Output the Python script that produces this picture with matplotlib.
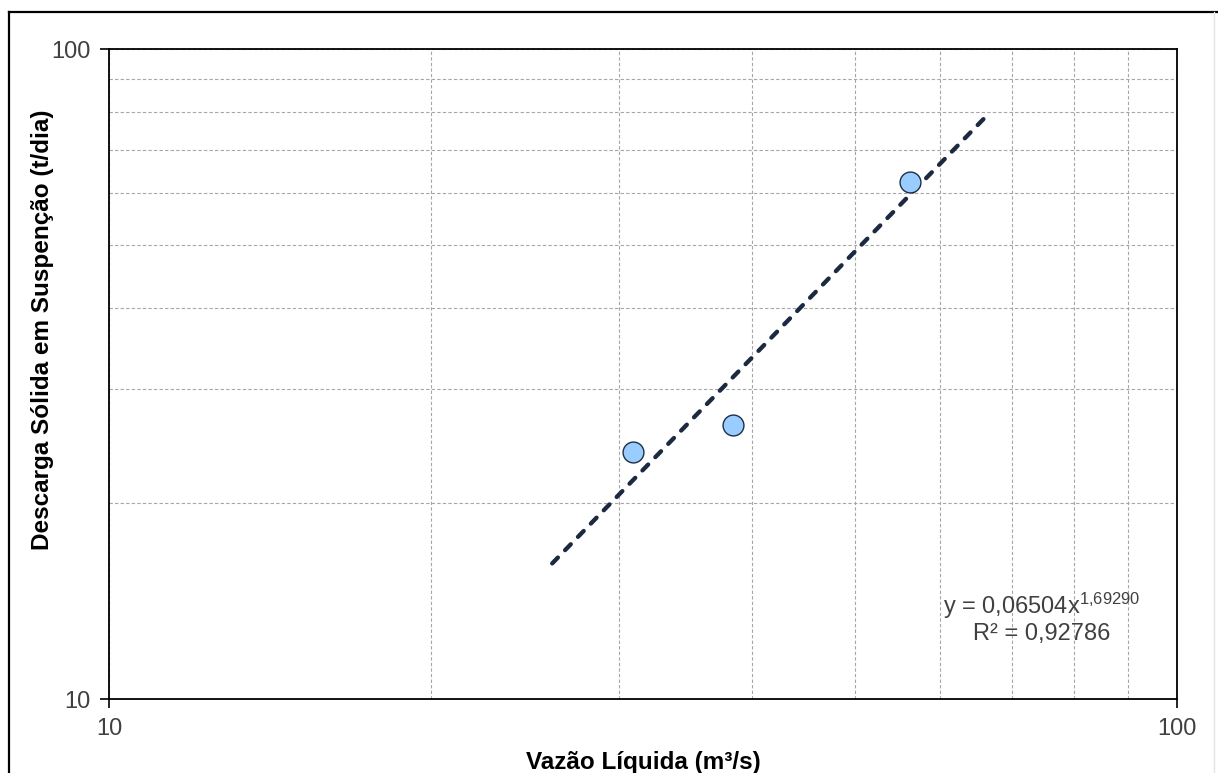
import numpy as np
import matplotlib
matplotlib.use("Agg")
import matplotlib.pyplot as plt
from matplotlib.lines import Line2D
from matplotlib.ticker import LogLocator, NullFormatter, FixedLocator, FixedFormatter

plt.rcParams['font.family'] = ['Liberation Sans', 'DejaVu Sans']
plt.rcParams['mathtext.fontset'] = 'custom'
plt.rcParams['mathtext.rm'] = 'Liberation Sans'
plt.rcParams['mathtext.it'] = 'Liberation Sans:italic'
plt.rcParams['mathtext.bf'] = 'Liberation Sans:bold'

# Measured discharge (m³/s) and suspended sediment load (t/day)
vazao = [30.95, 38.4, 56.2]
descarga = [24.0, 26.4, 62.4]

# Power-law trendline y = a * x^b and its extent along x
trend_a = 0.06504
trend_b = 1.69290
trend_r2 = 0.92786
trend_x_range = [26.0, 66.1]

x_label = "Vazão Líquida (m³/s)"
y_label = "Descarga Sólida em Suspenção (t/dia)"
x_ticks = [10, 100]
y_ticks = [10, 100]

W, H = 1218, 773
fig = plt.figure(figsize=(W / 100, H / 100), dpi=100)
fig.patch.set_facecolor('white')

# Outer chart frame (left and top edges dark, right edge faint)
fig.lines.append(Line2D([9 / W, 9 / W], [0, 1 - 12 / H], transform=fig.transFigure,
                        color='black', linewidth=1.6))
fig.lines.append(Line2D([9 / W, 1], [1 - 12 / H, 1 - 12 / H], transform=fig.transFigure,
                        color='black', linewidth=1.6))
fig.lines.append(Line2D([1214 / W, 1214 / W], [0, 1 - 12 / H], transform=fig.transFigure,
                        color='#e4e4e4', linewidth=1.0))

ax = fig.add_axes([109 / W, 1 - 699 / H, 1068 / W, 650 / H])
ax.set_xscale('log')
ax.set_yscale('log')
ax.set_xlim(10, 100)
ax.set_ylim(10, 100)

# Gridlines on major and minor decades
ax.xaxis.set_minor_locator(LogLocator(base=10, subs=np.arange(2, 10)))
ax.yaxis.set_minor_locator(LogLocator(base=10, subs=np.arange(2, 10)))
ax.xaxis.set_minor_formatter(NullFormatter())
ax.yaxis.set_minor_formatter(NullFormatter())
ax.grid(True, which='both', color='#a6a6a6', linestyle=(0, (3, 2)), linewidth=0.8)
ax.set_axisbelow(True)

ax.xaxis.set_major_locator(FixedLocator(x_ticks))
ax.xaxis.set_major_formatter(FixedFormatter([str(v) for v in x_ticks]))
ax.yaxis.set_major_locator(FixedLocator(y_ticks))
ax.yaxis.set_major_formatter(FixedFormatter([str(v) for v in y_ticks]))
ax.tick_params(which='minor', length=0)
ax.tick_params(which='major', direction='out', length=6.5, width=1.2,
               labelsize=17, labelcolor='#404040', pad=7)

for s in ax.spines.values():
    s.set_color('black')
    s.set_linewidth(1.3)

# Trendline drawn from its stated equation
tx = np.logspace(np.log10(trend_x_range[0]), np.log10(trend_x_range[1]), 100)
ty = trend_a * tx ** trend_b
line, = ax.plot(tx, ty, color='#1b2a40', linewidth=3.1,
                linestyle=(0, (1.9, 2.4)), zorder=3)
line.set_dash_capstyle('round')

ax.scatter(vazao, descarga, s=225, facecolor='#99ccff', edgecolor='#1f2f45',
           linewidth=1.0, zorder=4)

a_txt = f"{trend_a:.5f}".replace('.', ',')
b_txt = f"{trend_b:.5f}".replace('.', '{,}')
r2_txt = f"{trend_r2:.5f}".replace('.', ',')
equation_text = f"y = {a_txt}x$^{{{b_txt}}}$" + "\n" + f"R² = {r2_txt}"
ax.text(0.873, 0.125, equation_text, transform=ax.transAxes,
        ha='center', va='center', multialignment='center', fontsize=17,
        color='#404040', linespacing=1.15)

fig.text((109 + 1177) / 2 / W, 1 - 762 / H, x_label, ha='center', va='center',
         fontsize=17.5, fontweight='bold', color='black')
fig.text(43 / W, 1 - 330 / H, y_label, ha='center', va='center', rotation=90,
         fontsize=17.5, fontweight='bold', color='black')

fig.savefig('out.png', dpi=100, facecolor='white')
